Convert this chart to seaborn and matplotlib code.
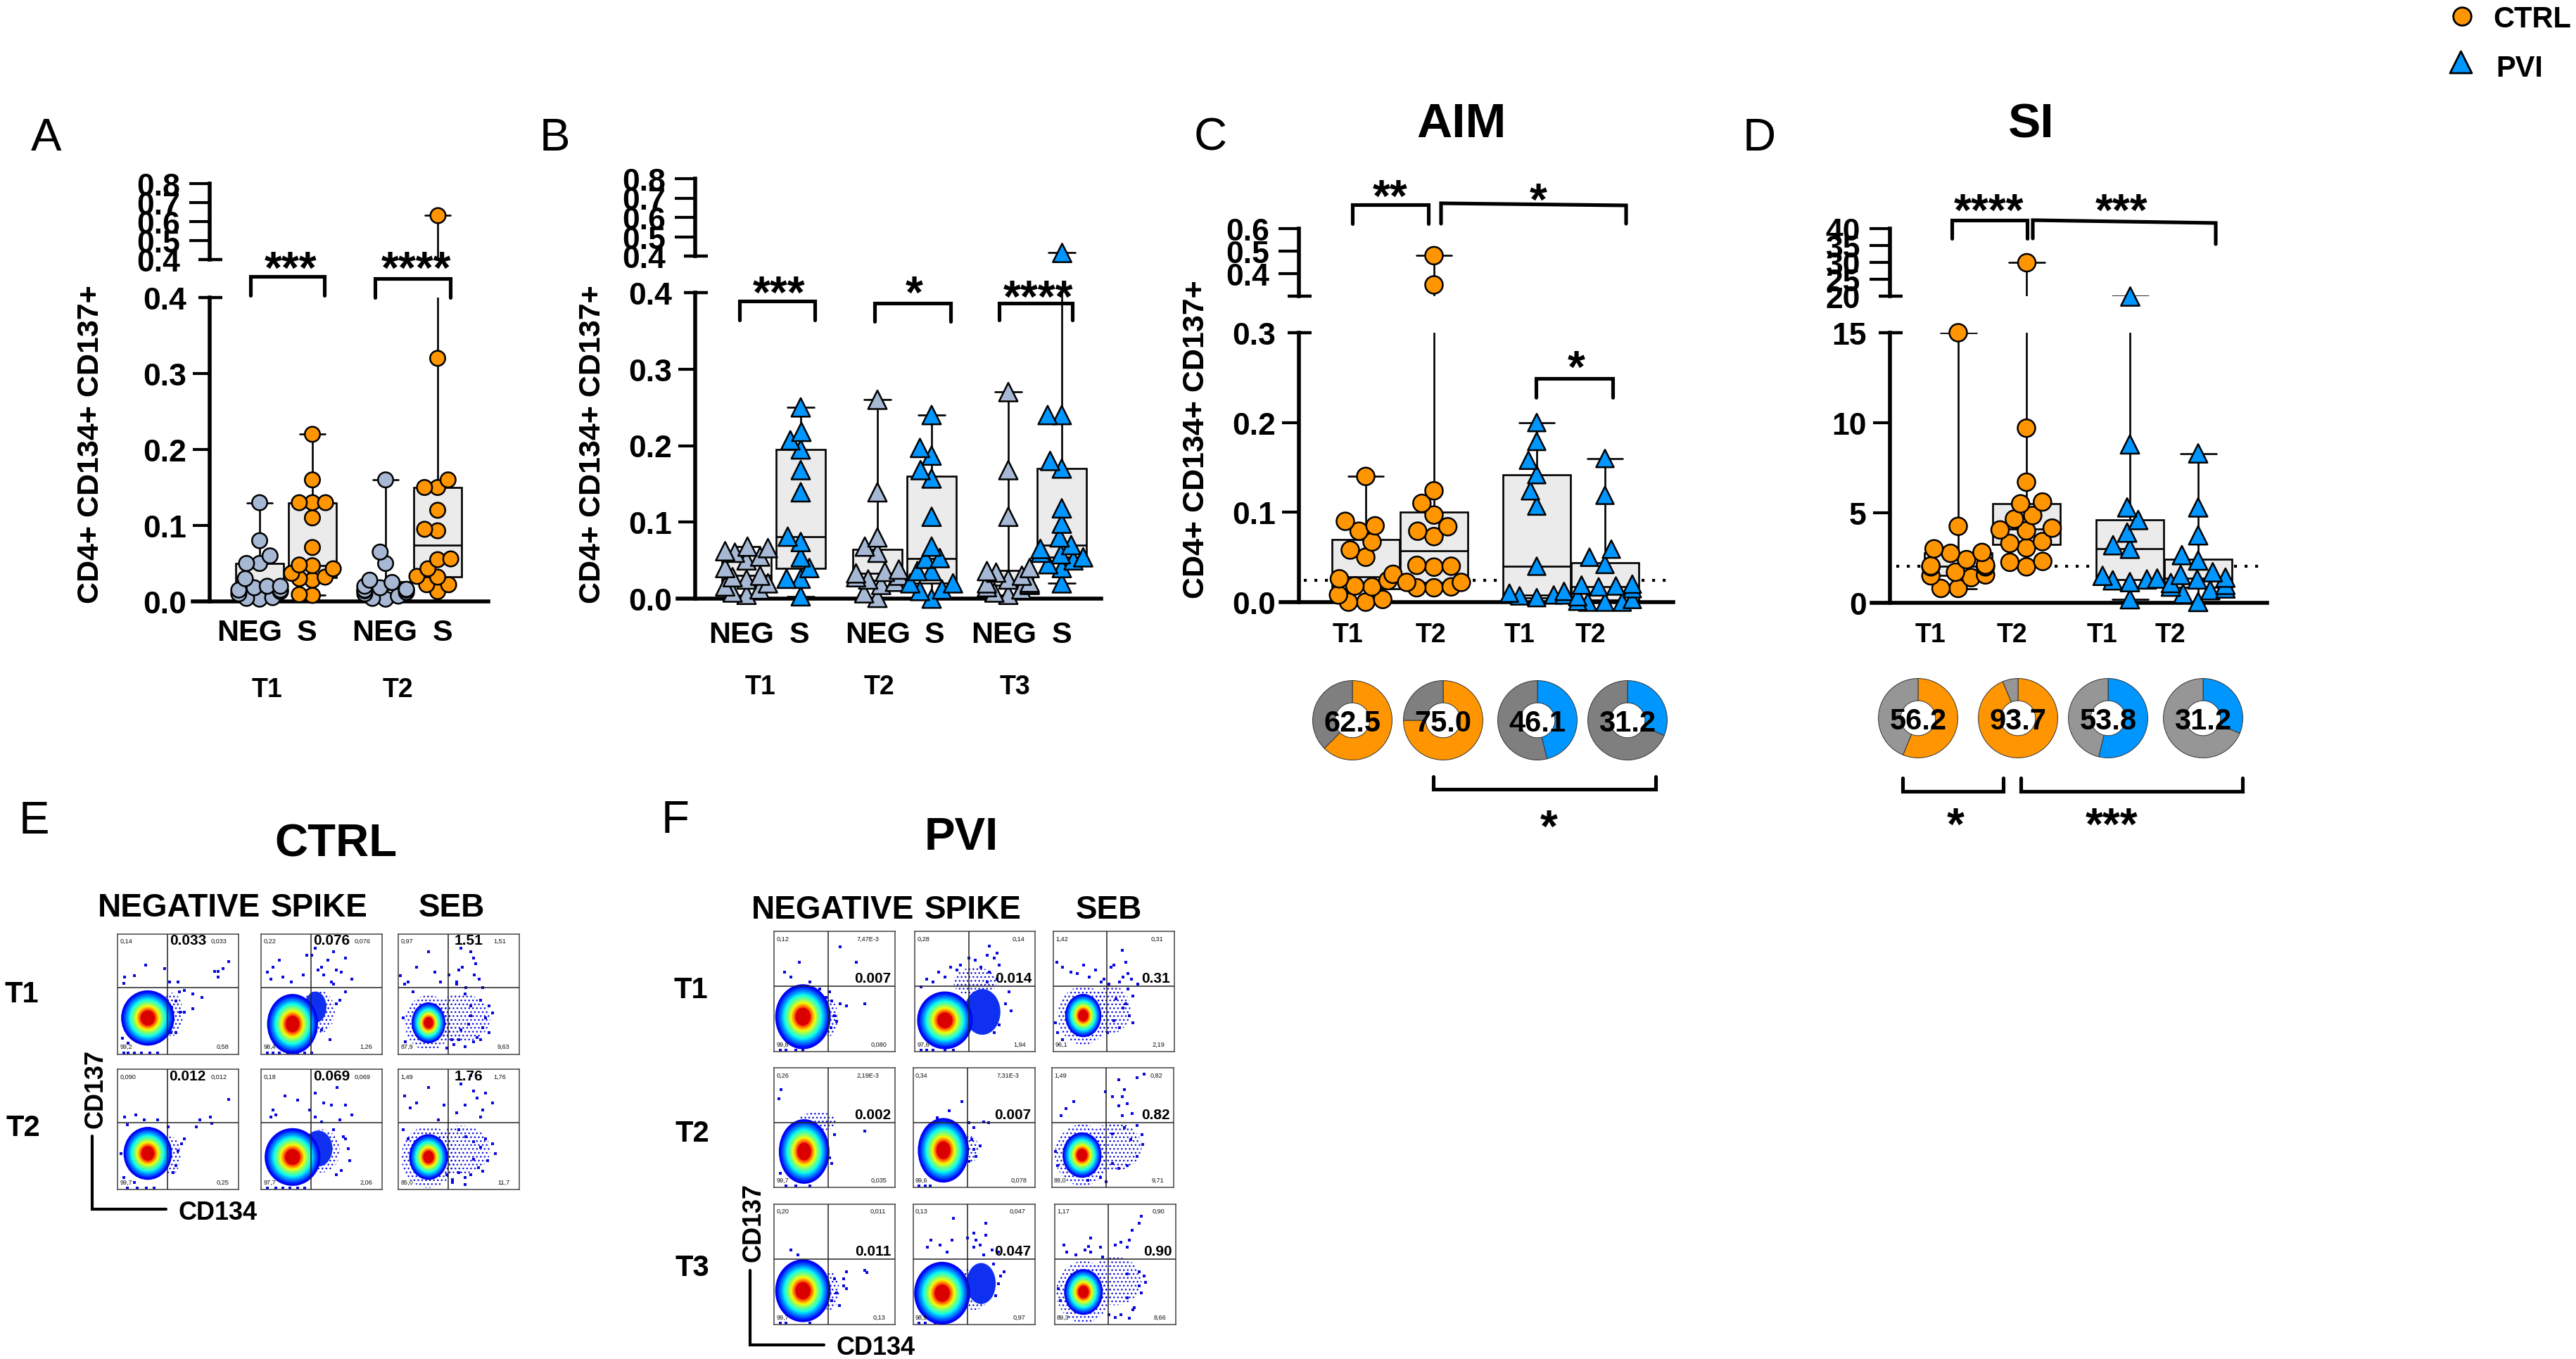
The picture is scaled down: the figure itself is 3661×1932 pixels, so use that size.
import numpy as np
import pandas as pd
import seaborn as sns
import matplotlib
matplotlib.use('Agg')
import matplotlib.pyplot as plt
from matplotlib.patches import Ellipse

# --- panel A values
A_NEG_T1 = [.003, .004, .005, .01, .013, .015, .015, .018, .02, .02, .03, .05, .05, .06, .08, .13]
A_S_T1 = [.008, .009, .028, .03, .032, .037, .043, .047, .048, .071, .11, .13, .13, .13, .16, .22]
A_NEG_T2 = [.003, .004, .007, .01, .012, .014, .015, .015, .016, .018, .02, .025, .028, .05, .065, .16]
A_S_T2 = [.013, .022, .022, .032, .033, .043, .055, .056, .093, .095, .12, .15, .15, .16, .32, .634]

# --- panel B values
B_NEG_T1 = [.005, .008, .012, .016, .02, .025, .028, .03, .04, .05, .055, .06, .062, .066, .068]
B_S_T1 = [.003, .026, .026, .04, .054, .074, .081, .139, .168, .195, .207, .218, .25]
B_NEG_T2 = [.001, .007, .018, .022, .025, .028, .03, .033, .035, .038, .06, .068, .08, .139, .26]
B_S_T2 = [0, .01, .012, .02, .02, .036, .036, .052, .053, .068, .107, .157, .168, .187, .197, .24]
B_NEG_T3 = [.005, .008, .012, .015, .018, .019, .02, .021, .025, .03, .034, .036, .04, .107, .168, .27]
B_S_T3 = [.02, .04, .045, .05, .054, .058, .06, .065, .07, .08, .098, .118, .17, .18, .24, .24, .42]

# --- panel C values
C_CTRL_T1 = [0, 0, .003, .008, .017, .018, .024, .026, .031, .05, .058, .067, .079, .085, .09, .14]
C_CTRL_T2 = [.016, .016, .017, .022, .022, .039, .04, .041, .073, .079, .084, .097, .11, .124, .35, .48]
C_PVI_T1 = [.005, .007, .008, .008, .01, .012, .04, .107, .124, .142, .158, .179, .2]
C_PVI_T2 = [0, 0, 0, .001, .003, .006, .015, .017, .018, .019, .02, .042, .05, .059, .119, .16]
C_PERCENT = [62.5, 75.0, 46.1, 31.2]
C_THRESHOLD = .024

# --- panel D values
D_CTRL_T1 = [.8, .8, 1.4, 1.5, 1.55, 1.7, 2.0, 2.0, 2.05, 2.1, 2.4, 2.75, 2.8, 3.0, 4.25, 15]
D_CTRL_T2 = [2.0, 2.25, 2.3, 3.05, 3.3, 3.4, 4.0, 4.05, 4.15, 4.65, 4.85, 5.5, 5.6, 6.7, 9.7, 30]
D_PVI_T1 = [.2, 1.15, 1.25, 1.3, 1.35, 1.5, 3.0, 3.2, 3.9, 4.6, 5.3, 8.8, 20]
D_PVI_T2 = [.05, .5, .7, .8, .9, 1.0, 1.1, 1.3, 1.4, 1.55, 1.7, 2.35, 2.65, 3.75, 5.3, 8.3]
D_PERCENT = [56.2, 93.7, 53.8, 31.2]
D_THRESHOLD = 2.03

# --- flow plots: main population [x, y, rx, ry], dense lobe and thin haze, in % of the plot
E_CORES = [[25, 30, 22, 23], [26, 25, 21, 25], [25, 26, 14, 17],
           [25, 30, 20, 22], [26, 27, 23, 24], [25, 27, 16, 19]]
E_LOBES = [None, [45, 39, 9, 13], None, None, [47, 34, 12, 15], None]
E_HAZE = [[45, 33, 9, 18], [47, 35, 14, 18], [52, 30, 24, 20], [44, 28, 8, 16], [50, 32, 15, 18], [52, 33, 24, 20]]
F_CORES = [[24, 29, 23, 27], [25, 26, 23, 24], [25, 30, 15, 18],
           [25, 30, 21, 27], [25, 31, 21, 27], [25, 27, 16, 19],
           [24, 28, 23, 26], [24, 26, 23, 26], [24, 27, 16, 19]]
F_LOBES = [None, [56, 33, 15, 19], None, None, None, None, None, [56, 34, 12, 17], None]
F_HAZE = [[46, 28, 7, 15], [50, 58, 18, 12], [48, 35, 16, 20], [36, 55, 16, 8], [46, 32, 8, 12], [52, 34, 22, 20],
          [46, 28, 8, 16], [50, 30, 14, 18], [50, 36, 22, 20]]

# outlying events
E_X = [
    [92, 87, 83, 80, 83, 70, 62, 62, 52, 55, 48, 44, 43, 50, 23, 39, 6, 5, 14, 51, 55, 48, 45, 46, 4, 9, 5, 9, 14, 20, 27, 33],
    [38, 42, 45, 60, 70, 55, 62, 50, 66, 75, 58, 65, 15, 10, 5, 8, 18, 25, 35, 47, 52, 60, 70, 62, 5, 10, 15, 22, 30, 36, 42, 50, 57],
    [25, 52, 50, 53, 60, 62, 64, 48, 56, 63, 67, 70, 2, 5, 15, 30, 35, 42, 48, 55, 60, 72, 70, 58, 50, 65, 75, 78, 52, 60, 68, 44, 8, 12, 6, 4, 40, 46, 55, 62, 75, 68],
    [92, 78, 77, 68, 65, 55, 53, 50, 48, 46, 42, 6, 8, 15, 22, 33, 5, 10, 14, 3, 8, 16, 24, 30],
    [63, 30, 20, 10, 8, 12, 40, 45, 52, 58, 70, 75, 45, 50, 60, 65, 68, 72, 73, 66, 62, 70, 5, 12, 18, 24, 30, 36],
    [60, 62, 55, 65, 72, 78, 48, 52, 68, 70, 5, 10, 15, 25, 33, 38, 50, 56, 62, 72, 78, 80, 74, 66, 60, 55, 50, 45, 62, 68, 4, 8, 40, 45, 55, 70],
]
E_Y = [
    [77, 71, 69, 69, 64, 47, 50, 38, 35, 35, 18, 18, 60, 60, 74, 71, 64, 59, 65, 52, 53, 44, 39, 29, 13, 9, 1, 1, 1, 1, 1, 1],
    [82, 82, 88, 85, 80, 78, 70, 72, 68, 62, 60, 45, 78, 72, 68, 62, 64, 60, 66, 70, 66, 58, 52, 42, 1, 1, 1, 1, 1, 1, 1, 20, 12],
    [85, 88, 70, 72, 85, 80, 75, 60, 55, 66, 62, 55, 65, 58, 72, 68, 60, 66, 58, 50, 40, 30, 22, 25, 12, 14, 40, 34, 20, 32, 45, 12, 60, 52, 10, 30, 5, 8, 6, 10, 18, 12],
    [75, 55, 60, 58, 52, 42, 38, 32, 20, 14, 52, 60, 54, 62, 58, 58, 10, 20, 6, 30, 1, 1, 1, 1],
    [85, 74, 78, 66, 60, 62, 66, 80, 72, 70, 70, 62, 60, 56, 50, 58, 44, 34, 24, 16, 12, 42, 1, 1, 1, 1, 1, 1],
    [95, 82, 70, 76, 80, 72, 64, 88, 60, 66, 78, 68, 72, 85, 58, 70, 50, 44, 40, 42, 38, 30, 24, 18, 12, 10, 14, 8, 25, 35, 50, 42, 12, 6, 4, 15],
]
F_X = [
    [55, 68, 21, 9, 43, 48, 55, 60, 75, 50, 52, 47, 46, 30, 38, 14, 5, 10, 18, 24],
    [62, 60, 68, 66, 50, 55, 62, 70, 45, 38, 30, 20, 10, 5, 15, 25, 35, 60, 68, 78, 75, 70, 80, 66, 5, 10, 15, 25, 32],
    [57, 50, 60, 58, 62, 55, 65, 48, 70, 3, 8, 15, 25, 30, 40, 46, 52, 58, 63, 66, 60, 55, 50, 66, 4, 8, 2, 45, 20, 35, 42, 62],
    [75, 50, 6, 4, 44, 46, 48, 5, 10, 18, 30],
    [46, 50, 58, 62, 48, 50, 52, 46, 55, 40, 30, 20, 5, 10, 14],
    [70, 55, 76, 60, 58, 44, 50, 55, 62, 66, 58, 70, 74, 75, 70, 62, 55, 50, 18, 12, 8, 25, 30, 40, 5, 3, 45, 60, 50, 65],
    [75, 77, 60, 58, 60, 52, 48, 54, 50, 58, 14, 20, 5, 10, 30],
    [33, 60, 50, 52, 55, 60, 58, 65, 70, 12, 15, 22, 28, 32, 45, 50, 72, 75, 68, 66, 70, 5, 10, 18, 25],
    [72, 70, 64, 62, 60, 55, 50, 30, 28, 8, 10, 18, 25, 30, 38, 40, 60, 70, 72, 74, 66, 60, 75, 55, 65, 70, 5, 3, 45, 50, 62],
]
F_Y = [
    [87, 74, 74, 66, 45, 42, 40, 38, 40, 30, 25, 20, 50, 58, 52, 62, 1, 1, 1, 1],
    [88, 80, 82, 78, 76, 70, 66, 72, 78, 72, 70, 66, 60, 54, 58, 62, 68, 58, 60, 50, 40, 22, 34, 16, 1, 1, 1, 1, 1],
    [84, 72, 74, 62, 65, 58, 60, 70, 56, 74, 70, 66, 72, 62, 58, 56, 44, 36, 30, 24, 40, 20, 26, 46, 16, 10, 24, 16, 65, 68, 60, 52],
    [47, 44, 82, 74, 36, 25, 20, 12, 1, 1, 1],
    [54, 50, 55, 54, 40, 32, 26, 22, 35, 72, 64, 58, 1, 1, 1],
    [92, 90, 95, 82, 76, 80, 76, 68, 70, 62, 60, 52, 44, 36, 26, 18, 16, 20, 72, 66, 60, 10, 6, 8, 18, 30, 5, 50, 45, 40],
    [45, 43, 44, 38, 30, 26, 20, 16, 38, 32, 62, 58, 1, 1, 1],
    [88, 84, 76, 70, 66, 74, 58, 62, 60, 64, 70, 66, 60, 70, 72, 64, 40, 44, 24, 50, 34, 1, 1, 1, 1],
    [90, 84, 78, 70, 64, 68, 66, 72, 65, 66, 60, 58, 62, 60, 64, 56, 42, 32, 26, 40, 14, 22, 35, 8, 12, 44, 20, 30, 8, 6, 5],
]

E_COLUMNS = ['NEGATIVE', 'SPIKE', 'SEB']
E_TEXT = [['0,14', '0,033', '99,2', '0,58'], ['0,22', '0,076', '98,4', '1,26'], ['0,97', '1,51', '87,9', '9,63'],
          ['0,090', '0,012', '99,7', '0,25'], ['0,18', '0,069', '97,7', '2,06'], ['1,49', '1,76', '85,0', '11,7']]
E_BOLD = ['0.033', '0.076', '1.51', '0.012', '0.069', '1.76']
F_TEXT = [['0,12', '7,47E-3', '99,8', '0,080'], ['0,28', '0,14', '97,6', '1,94'], ['1,42', '0,31', '96,1', '2,19'],
          ['0,26', '2,19E-3', '99,7', '0,035'], ['0,34', '7,31E-3', '99,6', '0,078'], ['1,49', '0,82', '88,0', '9,71'],
          ['0,20', '0,011', '99,7', '0,13'], ['0,13', '0,047', '98,9', '0,97'], ['1,17', '0,90', '89,3', '8,66']]
F_BOLD = ['0.007', '0.014', '0.31', '0.002', '0.007', '0.82', '0.011', '0.047', '0.90']

ORANGE = '#ff9500'
BLUE = '#0096ff'
NEG_COL = '#a6b8d3'
BOX_GREY = '#ebebeb'
YLABEL = 'CD4+ CD134+ CD137+'

W, H = 3661, 1933
sns.set_theme(style='white')
plt.rcParams['font.family'] = ['Liberation Sans', 'DejaVu Sans']
fig = plt.figure(figsize=(W / 100, H / 100), dpi=100)
swarm_axes = []


def px_axes(x0, y0, x1, y1):
    """Axes placed by figure pixels, y counted from the top."""
    return fig.add_axes([x0 / W, 1 - y1 / H, (x1 - x0) / W, (y1 - y0) / H])


overlay = px_axes(0, 0, W, H)
overlay.set_xlim(0, W)
overlay.set_ylim(H, 0)
overlay.set_axis_off()
overlay.set_zorder(10)


def put(x, y, s, size, bold=True, ha='center', rot=0):
    """Text with its capitals centred on (x, y)."""
    shift = .36 * size * 100 / 72
    if rot:
        x += shift
    else:
        y += shift
    overlay.text(x, y, s, fontsize=size, fontweight='bold' if bold else 'normal', ha=ha, va='baseline',
                 rotation=rot, rotation_mode='anchor', color='black')


def stars(x, y, s, size=46):
    overlay.text(x, y + .55 * size * 100 / 72, s, fontsize=size, fontweight='bold', ha='center', va='baseline', color='black')


def bracket(x0, x1, ytop0, ytop1, yend0, yend1):
    overlay.plot([x0, x0, x1, x1], [yend0, ytop0, ytop1, yend1], color='black', lw=3.7, solid_joinstyle='miter')


def tick_bar(x0, x1, y):
    overlay.plot([x0, x1], [y, y], color='black', lw=3.2, solid_capstyle='butt')


def draw_groups(ax, frame, cap, width, swarm_size, xlim, ylim, drawn):
    sns.boxplot(data=frame, x='slot', y='value', native_scale=True, width=width, color=BOX_GREY, saturation=1,
                linecolor='black', linewidth=1.9, whis=(0, 100), fliersize=0, capwidths=cap, ax=ax)
    shown = frame[(frame['value'] >= ylim[0]) & (frame['value'] <= ylim[1])]
    for marker, part in shown.groupby('marker'):
        palette = dict(zip(part['group'], part['colour']))
        sns.swarmplot(data=part, x='slot', y='value', hue='group', palette=palette, native_scale=True, marker=marker,
                      size=swarm_size, edgecolor='black', linewidth=1.8, legend=False, warn_thresh=1, zorder=5, ax=ax)
    ax.set_xlim(*xlim)
    ax.set_ylim(*ylim)
    ax.set_xlabel('')
    ax.set_ylabel('')
    ax.patch.set_alpha(0)
    swarm_axes.append((ax, drawn))


def style_axis(ax, spine_x, ticks, labels, length, pad, bottom):
    sns.despine(ax=ax, top=True, right=True, bottom=not bottom)
    ax.spines['left'].set_position(('data', spine_x))
    ax.spines['left'].set_linewidth(4)
    ax.spines['left'].set_color('black')
    ax.spines['bottom'].set_linewidth(4)
    ax.spines['bottom'].set_color('black')
    ax.set_xticks([])
    ax.set_yticks(ticks, labels)
    ax.tick_params(axis='y', which='major', direction='out', left=True, length=length, width=3, color='black',
                   pad=pad, labelsize=32, labelcolor='black')
    for lab in ax.get_yticklabels():
        lab.set_fontweight('bold')


def broken_panel(groups, slots, layout, low_ticks, low_labels, high_ticks, high_labels, box_width, cap, swarm_size, drawn):
    rows = []
    for (name, vals, colour, marker), slot in zip(groups, slots):
        for v in vals:
            rows.append({'slot': slot, 'value': v, 'group': name, 'colour': colour, 'marker': marker})
    frame = pd.DataFrame(rows)
    x0, x1, spine = layout['x0'], layout['x1'], layout['spine']
    low = px_axes(x0, layout['low_top'], x1, layout['low_zero'])
    high = px_axes(x0, layout['high_top'], x1, layout['high_bottom'])
    draw_groups(low, frame, cap, box_width, swarm_size, (x0, x1), (low_ticks[0], low_ticks[-1]), drawn)
    draw_groups(high, frame, cap, box_width, swarm_size, (x0, x1), (high_ticks[0], high_ticks[-1]), drawn)
    style_axis(low, spine, low_ticks, low_labels, 17, 7, True)
    style_axis(high, spine, high_ticks, high_labels, 21, 9, False)
    low.yaxis.get_major_ticks()[-1].tick1line.set_visible(False)
    high.yaxis.get_major_ticks()[0].tick1line.set_visible(False)
    tick_bar(spine - 16, spine + 18, layout['low_top'])
    tick_bar(spine - 16, spine + 18, layout['high_bottom'])
    return low, high


def donut(cx, cy, pct, colour, grey, r=57):
    ax = px_axes(cx - r, cy - r, cx + r, cy + r)
    ax.pie([pct, 100 - pct], colors=[colour, grey], startangle=90, counterclock=False, radius=1,
           wedgeprops={'width': .56, 'edgecolor': '#333333', 'linewidth': .7})
    ax.set_xlim(-1.01, 1.01)
    ax.set_ylim(-1.01, 1.01)
    put(cx, cy, f'{pct:.1f}', 30)


def stipple(ax, x, y, rx, ry):
    ax.add_patch(Ellipse((x, y), rx * 2, ry * 2, facecolor='none', edgecolor='#0a0ae0', hatch='...', lw=0, zorder=2))


def flow_plot(box, vfrac, hfrac, core, lobe, haze, sparse, dots_x, dots_y, texts, bold, bold_xy, bold_ha, tr_x):
    ax = px_axes(*box)
    ax.set_xlim(0, 100)
    ax.set_ylim(0, 100)
    sns.scatterplot(x=dots_x, y=dots_y, color='#0a0ae0', marker='s', s=8, linewidth=0, legend=False, ax=ax, zorder=2)
    stipple(ax, *haze)
    if sparse:
        stipple(ax, core[0], core[1], core[2] * 1.4, core[3] * 1.35)
    if lobe:
        ax.add_patch(Ellipse(lobe[:2], lobe[2] * 2, lobe[3] * 2, color='#0f30f0', lw=0, zorder=2))
    levels = np.linspace(.1, .92, 18)
    sizes = np.interp(levels, [.1, .35, .5, .65, .89], [1, .72, .56, .44, .27])
    cmap = plt.get_cmap('jet')
    for lev, frac in zip(levels, sizes):
        ax.add_patch(Ellipse(core[:2], core[2] * 2 * frac, core[3] * 2 * frac, color=cmap(lev), lw=0, zorder=3))
    ax.axvline(vfrac * 100, color='#222222', lw=1.1, zorder=4)
    ax.axhline(100 - hfrac * 100, color='#222222', lw=1.1, zorder=4)
    ax.set_xticks([])
    ax.set_yticks([])
    for sp in ax.spines.values():
        sp.set_visible(True)
        sp.set_color('#444444')
        sp.set_linewidth(1.1)
    ax.text(2, 94, texts[0], fontsize=6.6, ha='left', va='center', color='#111111')
    ax.text(tr_x, 94, texts[1], fontsize=6.6, ha='center', va='center', color='#111111')
    ax.text(2, 6.5, texts[2], fontsize=6.6, ha='left', va='center', color='#111111')
    ax.text(87, 6.5, texts[3], fontsize=6.6, ha='center', va='center', color='#111111')
    ax.text(bold_xy[0], bold_xy[1], bold, fontsize=15, fontweight='bold', ha=bold_ha, va='center', color='black')


# panel letters and legend
for letter, lx, ly in [('A', 66, 190), ('B', 788, 190), ('C', 1720, 190), ('D', 2500, 190), ('E', 48, 1162), ('F', 960, 1161)]:
    put(lx, ly, letter, 47, bold=False)

legend_ax = px_axes(3470, 0, 3530, 120)
legend_ax.set_xlim(3470, 3530)
legend_ax.set_ylim(120, 0)
legend_ax.set_axis_off()
sns.scatterplot(x=[3499], y=[24], marker='o', s=340, color=ORANGE, edgecolor='black', linewidth=2, legend=False, ax=legend_ax)
sns.scatterplot(x=[3497], y=[89], marker='^', s=500, color=BLUE, edgecolor='black', linewidth=2, legend=False, ax=legend_ax)
put(3543, 24, 'CTRL', 30, ha='left')
put(3547, 94, 'PVI', 30, ha='left')

# panel A
groups_a = [('neg1', A_NEG_T1, NEG_COL, 'o'), ('s1', A_S_T1, ORANGE, 'o'), ('neg2', A_NEG_T2, NEG_COL, 'o'), ('s2', A_S_T2, ORANGE, 'o')]
broken_panel(groups_a, [369, 444, 548, 622],
             {'x0': 274, 'x1': 694, 'spine': 298, 'low_top': 424, 'low_zero': 856, 'high_top': 262, 'high_bottom': 370},
             [0, .1, .2, .3, .4], ['0.0', '0.1', '0.2', '0.3', '0.4'],
             [.4, .5, .6, .7, .8], ['0.4', '0.5', '0.6', '0.7', '0.8'], .93, 36, 11, {'o': 15.5})
put(125, 632, YLABEL, 31, rot=90)
for s, tx in [('NEG', 355), ('S', 436), ('NEG', 547), ('S', 629)]:
    put(tx, 896, s, 31)
put(380, 978, 'T1', 27)
put(565, 978, 'T2', 27)
bracket(356, 461, 394, 394, 421, 421)
bracket(533, 640, 397, 397, 424, 424)
stars(413, 368, '***')
stars(592, 368, '****')

# panel B
groups_b = [('neg1', B_NEG_T1, NEG_COL, '^'), ('s1', B_S_T1, BLUE, '^'), ('neg2', B_NEG_T2, NEG_COL, '^'),
            ('s2', B_S_T2, BLUE, '^'), ('neg3', B_NEG_T3, NEG_COL, '^'), ('s3', B_S_T3, BLUE, '^')]
broken_panel(groups_b, [1061, 1138, 1247, 1324, 1433, 1509],
             {'x0': 963, 'x1': 1565, 'spine': 988, 'low_top': 417, 'low_zero': 852, 'high_top': 255, 'high_bottom': 365},
             [0, .1, .2, .3, .4], ['0.0', '0.1', '0.2', '0.3', '0.4'],
             [.4, .5, .6, .7, .8], ['0.4', '0.5', '0.6', '0.7', '0.8'], .93, 38, 12, {'^': 19})
put(838, 632, YLABEL, 31, rot=90)
for s, tx in [('NEG', 1054), ('S', 1136), ('NEG', 1248), ('S', 1328), ('NEG', 1427), ('S', 1509)]:
    put(tx, 899, s, 31)
for s, tx in [('T1', 1081), ('T2', 1249), ('T3', 1443)]:
    put(tx, 974, s, 27)
bracket(1051, 1158, 429, 429, 456, 456)
bracket(1243, 1351, 432, 432, 458, 458)
bracket(1420, 1524, 432, 432, 456, 456)
stars(1107, 403, '***')
stars(1299, 403, '*')
stars(1476, 409, '****')

# panel C
groups_c = [('c1', C_CTRL_T1, ORANGE, 'o'), ('c2', C_CTRL_T2, ORANGE, 'o'), ('p1', C_PVI_T1, BLUE, '^'), ('p2', C_PVI_T2, BLUE, '^')]
low_c, _ = broken_panel(groups_c, [1941, 2038, 2184, 2281],
                        {'x0': 1820, 'x1': 2378, 'spine': 1846, 'low_top': 474, 'low_zero': 857, 'high_top': 326, 'high_bottom': 422},
                        [0, .1, .2, .3], ['0.0', '0.1', '0.2', '0.3'],
                        [.3, .4, .5, .6], ['', '0.4', '0.5', '0.6'], .98, 50, 15, {'o': 18, '^': 18})
low_c.plot([1853, 2375], [C_THRESHOLD, C_THRESHOLD], color='black', lw=3, ls=(0, (1, 2.6)), zorder=1)
put(1696, 625, YLABEL, 31, rot=90)
for s, tx in [('T1', 1916), ('T2', 2033), ('T1', 2160), ('T2', 2260)]:
    put(tx, 900, s, 27)
for cx, pct, colour in zip([1922, 2051, 2185, 2313], C_PERCENT, [ORANGE, ORANGE, BLUE, BLUE]):
    donut(cx, 1025, pct, colour, '#7f7f7f')
put(2077, 170, 'AIM', 50)
bracket(1922, 2030, 292, 292, 319, 319)
bracket(2048, 2311, 290, 293, 319, 319)
bracket(2183, 2292, 539, 539, 566, 566)
bracket(2037, 2353, 1123, 1123, 1105, 1105)
stars(1976, 266, '**')
stars(2186, 271, '*')
stars(2240, 509, '*')
stars(2201, 1162, '*')

# panel D
groups_d = [('c1', D_CTRL_T1, ORANGE, 'o'), ('c2', D_CTRL_T2, ORANGE, 'o'), ('p1', D_PVI_T1, BLUE, '^'), ('p2', D_PVI_T2, BLUE, '^')]
low_d, _ = broken_panel(groups_d, [2783, 2880, 3027, 3124],
                        {'x0': 2660, 'x1': 3222, 'spine': 2686, 'low_top': 474, 'low_zero': 858, 'high_top': 326, 'high_bottom': 422},
                        [0, 5, 10, 15], ['0', '5', '10', '15'],
                        [20, 25, 30, 35, 40], ['20', '25', '30', '35', '40'], .98, 51, 15, {'o': 18, '^': 19})
low_d.plot([2695, 3215], [D_THRESHOLD, D_THRESHOLD], color='black', lw=3, ls=(0, (1, 2.6)), zorder=1)
for s, tx in [('T1', 2744), ('T2', 2859), ('T1', 2988), ('T2', 3084)]:
    put(tx, 900, s, 27)
for cx, pct, colour in zip([2726, 2868, 2996, 3131], D_PERCENT, [ORANGE, ORANGE, BLUE, BLUE]):
    donut(cx, 1022, pct, colour, '#969696')
put(2887, 170, 'SI', 50)
bracket(2774, 2881, 314, 314, 340, 340)
bracket(2889, 3149, 314, 318, 340, 348)
bracket(2704, 2847, 1126, 1126, 1107, 1107)
bracket(2872, 3187, 1126, 1126, 1107, 1107)
stars(2827, 286, '****')
stars(3015, 286, '***')
stars(2779, 1159, '*')
stars(3001, 1159, '***')

# panel E
put(477, 1194, 'CTRL', 47)
for s, tx in zip(E_COLUMNS, [255, 454, 642]):
    put(tx, 1287, s, 33)
put(31, 1410, 'T1', 30)
put(33, 1600, 'T2', 30)
e_cols = [(167, 339), (371, 543), (566, 738)]
e_rows = [(1328.5, 1499.5), (1521, 1692)]
for i in range(6):
    cx0, cx1 = e_cols[i % 3]
    ry0, ry1 = e_rows[i // 3]
    flow_plot((cx0, ry0, cx1, ry1), .412, .446, E_CORES[i], E_LOBES[i], E_HAZE[i], i % 3 == 2, E_X[i], E_Y[i],
              E_TEXT[i], E_BOLD[i], (58, 94.5), 'center', 84)
overlay.plot([131, 131, 236], [1616, 1720, 1720], color='black', lw=3, solid_joinstyle='miter')
put(133, 1548, 'CD137', 26, rot=90)
put(254, 1721, 'CD134', 26, ha='left')

# panel F
put(1366, 1185, 'PVI', 47)
for s, tx in zip(E_COLUMNS, [1184, 1383, 1576]):
    put(tx, 1290, s, 33)
put(982, 1404, 'T1', 30)
put(984, 1608, 'T2', 30)
put(984, 1799, 'T3', 30)
f_boxes = [(1100, 1325, 1271.5, 1496), (1300, 1325, 1471.5, 1496), (1496.5, 1325, 1668.5, 1496),
           (1100, 1519, 1271.5, 1689), (1297.5, 1519, 1470.5, 1689), (1494.5, 1519, 1667.5, 1689),
           (1100, 1712.5, 1271.5, 1884), (1297.5, 1712.5, 1470.5, 1884), (1498.5, 1712.5, 1670.5, 1884)]
for i, box in enumerate(f_boxes):
    flow_plot(box, .447, .457, F_CORES[i], F_LOBES[i], F_HAZE[i], i % 3 == 2, F_X[i], F_Y[i], F_TEXT[i], F_BOLD[i],
              (97, 61), 'right', 78 if 'E' in F_TEXT[i][1] else 86)
overlay.plot([1066, 1066, 1171], [1807, 1913, 1913], color='black', lw=3, solid_joinstyle='miter')
put(1068, 1738, 'CD137', 26, rot=90)
put(1189, 1913, 'CD134', 26, ha='left')

# swarm offsets are worked out at a tighter size, then frozen and drawn full size
fig.canvas.draw()
for ax, drawn in swarm_axes:
    for coll in ax.collections:
        coll.__dict__.pop('draw', None)
        coll.set_clip_on(False)
        tri = coll.get_paths()[0].vertices.shape[0] < 10
        size = drawn.get('^' if tri else 'o')
        coll.set_sizes([size ** 2])

fig.savefig('out.png', dpi=100, facecolor='white')
